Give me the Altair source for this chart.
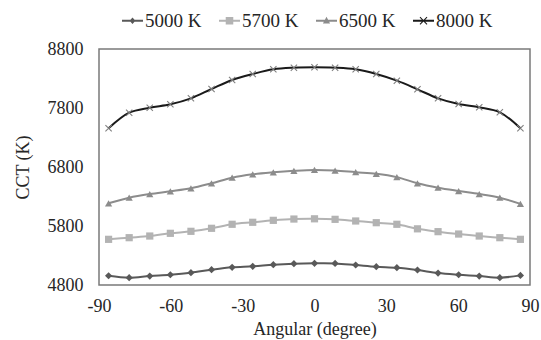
import altair as alt
import pandas as pd

series_names = ["5000 K", "5700 K", "6500 K", "8000 K"]
angles = [-86, -77.4, -68.8, -60.2, -51.6, -43, -34.4, -25.8, -17.2, -8.6, 0,
          8.6, 17.2, 25.8, 34.4, 43, 51.6, 60.2, 68.8, 77.4, 86]
cct_5000 = [4957, 4924, 4952, 4974, 5008, 5059, 5100, 5117, 5144, 5161, 5168,
            5166, 5139, 5110, 5093, 5054, 5003, 4974, 4952, 4924, 4963]
cct_5700 = [5574, 5602, 5630, 5676, 5710, 5761, 5829, 5863, 5896, 5918, 5922,
            5913, 5885, 5856, 5829, 5752, 5704, 5664, 5630, 5602, 5574]
cct_6500 = [6185, 6280, 6342, 6388, 6439, 6524, 6619, 6676, 6710, 6735, 6750,
            6740, 6712, 6685, 6628, 6524, 6449, 6393, 6342, 6280, 6175]
cct_8000 = [7456, 7720, 7805, 7863, 7964, 8122, 8275, 8376, 8456, 8483, 8490,
            8483, 8456, 8376, 8263, 8117, 7964, 7868, 7812, 7727, 7456]
x_ticks = [-90, -60, -30, 0, 30, 60, 90]
y_ticks = [4800, 5800, 6800, 7800, 8800]

line_colors = ["#595959", "#b3b3b3", "#8c8c8c", "#1a1a1a"]
marker_colors = ["#595959", "#b3b3b3", "#8c8c8c", "#808080"]
marker_shapes = ["diamond", "square", "triangle-up", "M-1,-1L1,1M-1,1L1,-1"]

# legend glyphs: short line with the marker on it (filled outlines)
BAR = "M-1,-0.09H1V0.09H-1Z"
legend_shapes = [
    BAR + "M0,-0.32L0.28,0L0,0.32L-0.28,0Z",
    BAR + "M-0.36,-0.36H0.36V0.36H-0.36Z",
    BAR + "M0,-0.38L0.34,0.26H-0.34Z",
    BAR + "M-0.3,-0.37L0.37,0.3L0.3,0.37L-0.37,-0.3Z"
          "M0.3,-0.37L0.37,-0.3L-0.3,0.37L-0.37,0.3Z",
]

rows = []
for name, vals in zip(series_names, [cct_5000, cct_5700, cct_6500, cct_8000]):
    for a, v in zip(angles, vals):
        rows.append({"angle": a, "cct": v, "series": name})
df = pd.DataFrame(rows)

FONT = "Liberation Serif"
TXT = "#262626"

x_enc = alt.X("angle:Q", scale=alt.Scale(domain=[-90, 90], nice=False),
              axis=alt.Axis(values=x_ticks, title="Angular (degree)", grid=False,
                            ticks=False, tickSize=0, domain=False, labelFlush=False,
                            labelExpr="'' + datum.value",
                            labelPadding=12, titlePadding=5))
y_enc = alt.Y("cct:Q", scale=alt.Scale(domain=[4800, 8800], nice=False, zero=False),
              axis=alt.Axis(values=y_ticks, title="CCT (K)", grid=False,
                            ticks=False, tickSize=0, domain=False,
                            labelExpr="'' + datum.value",
                            labelPadding=16, titlePadding=15))

layers = []
for name, lc in zip(series_names, line_colors):
    layers.append(
        alt.Chart(df).transform_filter(alt.datum.series == name)
        .mark_line(interpolate="catmull-rom", strokeWidth=2, color=lc)
        .encode(x=x_enc, y=y_enc)
    )

for name, shp, col in zip(series_names, marker_shapes, marker_colors):
    base = alt.Chart(df).transform_filter(alt.datum.series == name)
    if name == "8000 K":
        m = base.mark_point(shape=shp, filled=False, size=40, color=col,
                            strokeWidth=1.1, opacity=1)
    else:
        m = base.mark_point(shape=shp, filled=True, size=52, color=col, opacity=1)
    layers.append(m.encode(x=x_enc, y=y_enc))

leg_kwargs = dict(
    title=None, orient="none", direction="horizontal", legendX=23, legendY=-39,
    padding=0, columnPadding=17, labelOffset=2, symbolSize=441, symbolOpacity=1,
    labelFont=FONT, labelFontSize=19, labelColor=TXT, symbolStrokeWidth=0,
)

legend_layer = alt.Chart(df).mark_point(
    filled=True, opacity=0, size=441
).encode(
    x=x_enc, y=y_enc,
    color=alt.Color("series:N", scale=alt.Scale(domain=series_names, range=line_colors),
                    legend=alt.Legend(**leg_kwargs)),
    shape=alt.Shape("series:N", scale=alt.Scale(domain=series_names, range=legend_shapes),
                    legend=alt.Legend(**leg_kwargs)),
)
layers.append(legend_layer)

chart = alt.layer(*layers).properties(
    width=431, height=236,
    autosize=alt.AutoSizeParams(type="none"),
    padding={"left": 99, "top": 49, "right": 11, "bottom": 55},
    background="white",
).configure_view(
    stroke="#7a7a7a", strokeWidth=1.5
).configure_axis(
    labelFont=FONT, labelFontSize=18, labelColor=TXT,
    titleFont=FONT, titleFontSize=18, titleColor=TXT, titleFontWeight="normal",
)

chart.save("out.html", embed_options={"renderer": "svg", "actions": False})
